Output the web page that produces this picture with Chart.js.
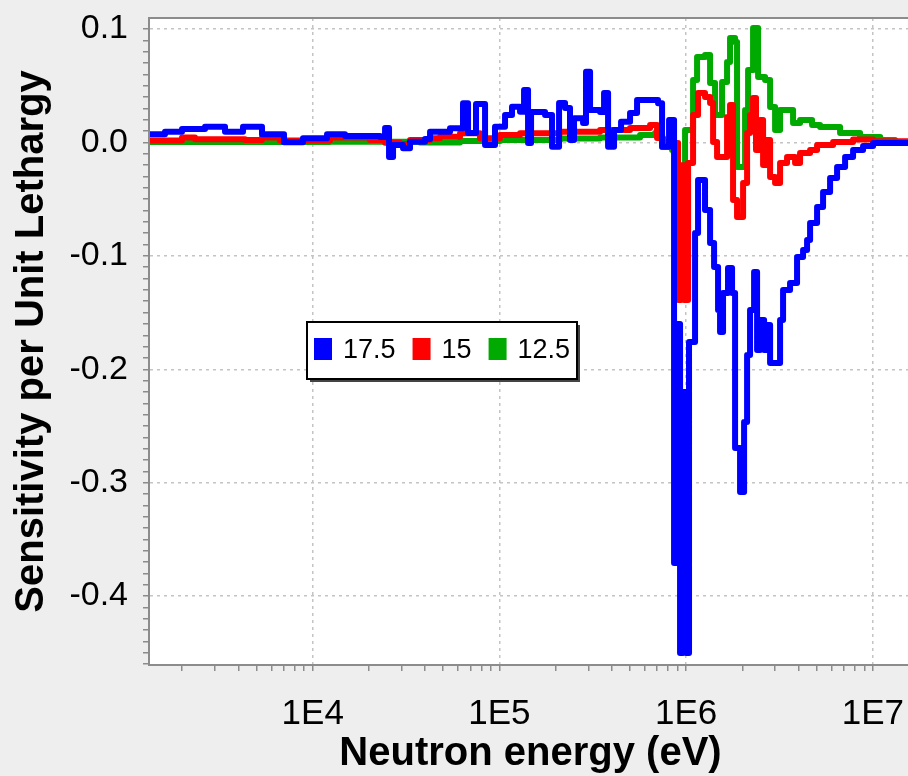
<!DOCTYPE html>
<html lang="en">
<head>
  <meta charset="UTF-8" />
  <title>Sensitivity per Unit Lethargy</title>
  <script src="https://cdn.jsdelivr.net/npm/chart.js"></script>
  <style>
    html, body {
      margin: 0;
      padding: 0;
      width: 908px;
      height: 776px;
      overflow: hidden;
      background: #eeeeee;
    }
    #wrap {
      position: absolute;
      left: 0;
      top: 0;
    }
    #wrap canvas {
      display: block;
    }
  </style>
</head>
<body>
  <div id="wrap">
    <canvas id="sensChart" width="912" height="776"></canvas>
  </div>

  <script>
    // series labels (legend order)
    const seriesLabels = ['17.5', '15', '12.5'];

    // group start energies (eV) and sensitivity per unit lethargy
    const blueE = [1300, 1618, 1995, 2650, 3391, 4233, 5350, 7020, 8872, 11930,
      14890, 22940, 24400, 25630, 26930, 30460, 33200, 39950, 42500, 54370,
      63830, 67890, 74930, 83740, 94710, 107150, 116800, 128920, 135450, 142300,
      147700, 175500, 191300, 208600, 224600, 238800, 250900, 280400, 290900, 305700,
      345800, 363300, 381800, 411000, 448100, 500600, 545800, 707100, 743000, 809900,
      861400, 894000, 927500, 962500, 998800, 1036000,
      1116000, 1158000, 1262000, 1343000, 1411000, 1482000, 1519000,
      1576000, 1676000, 1761000, 1828000, 1944000, 2043000, 2120000, 2199000, 2311000, 2398000,
      2488000, 2615000, 2713000, 2815000, 3184000, 3304000, 3601000, 3926000, 4228000, 4442000,
      4610000, 5025000, 5411000, 5899000, 6431000, 7099000, 7834000, 8860000, 10030000, 20000000];
    const blueV = [0.0072, 0.0095, 0.0119, 0.0139, 0.0095, 0.0139, 0.0072, 0.0002, 0.0037, 0.0072,
      0.0057, 0.0049, 0.0128, -0.0128, -0.0022, -0.0051, 0.0007, 0.0031, 0.0095, 0.0125,
      0.0346, 0.0084, 0.034, -0.0022, 0.0139, 0.0243, 0.0316, 0.0272, 0.0463, -0.0004,
      0.0269, 0.0243, -0.0037, 0.0348, 0.0304, 0.0022, 0.0213, 0.0172, 0.0624, 0.0287,
      0.0269, 0.0437, -0.0037, 0.011, 0.0183, 0.026, 0.0375, 0.0346, -0.0037, 0.0198,
      -0.3708, -0.16, -0.4502, -0.22, -0.4502, -0.1759,
      -0.0798, -0.0331, -0.0595, -0.0886, -0.1098, -0.1477, -0.1671,
      -0.1327, -0.1107, -0.1327, -0.2694, -0.3082, -0.2465, -0.1874, -0.1477, -0.1142, -0.183,
      -0.1565, -0.183, -0.1609, -0.1944, -0.1565, -0.1301, -0.1239, -0.101, -0.0948, -0.086,
      -0.071, -0.0569, -0.0437, -0.0313, -0.0216, -0.0128, -0.0066, -0.0031, -0.0004, -0.0004];

    const redE = [1300, 1995, 2342, 4339, 5350, 6681, 12380, 20270, 24400, 29350,
      33200, 42500, 48060, 61520, 78730, 100700, 128920, 211200, 345800, 500600,
      640900, 698400, 752100, 840500, 905000, 940000, 975000, 1024000, 1089000, 1158000, 1262000, 1343000,
      1394000, 1464000, 1656000, 1718000, 1783000, 1873000, 2018000, 2120000, 2199000, 2282000,
      2367000, 2488000, 2582000, 2679000, 2815000, 2994000, 3184000, 3470000, 3831000, 4074000,
      4610000, 5025000, 6123000, 7834000, 10030000, 20000000];
    const redV = [0.0018, 0.0044, 0.0028, 0.0022, 0.0044, 0.0018, 0.0044, 0.0022, -0.0002, -0.0013,
      0.0022, 0.0037, 0.0051, 0.0081, 0.0037, 0.0066, 0.0081, 0.0095, 0.011, 0.0128,
      0.0154, 0.004, 0.0007, -0.0004, -0.1389, -0.02, -0.1389, -0.0181, 0.0243, 0.0437, 0.0401, 0.0348,
      0.0004, -0.0128, 0.0225, 0.0331, -0.0507, -0.0657, -0.0357, 0.0084, 0.0243, 0.0392,
      -0.0066, 0.0198, -0.0198, 0.0022, -0.0304, -0.0357, -0.0181, -0.0128, -0.0181, -0.0093,
      -0.0066, -0.0022, 0.0004, 0.0026, 0.001, 0.001];

    const greenE = [1300, 12380, 37550, 61520, 100700, 211200, 345800, 566400, 681400, 743000,
      840500, 871800, 986500, 1089000, 1144000, 1262000, 1343000, 1428000, 1557000, 1656000,
      1718000, 1828000, 1873000, 2068000, 2146000, 2282000, 2428000, 2647000, 2815000, 2994000,
      3184000, 3737000, 4074000, 4724000, 5214000, 6672000, 8541000, 10950000, 13150000, 20000000];
    const greenV = [0.0004, 0.0007, 0.0, 0.0013, 0.0022, 0.0035, 0.0044, 0.0066, 0.0084, -0.004,
      -0.0066, -0.0225, 0.011, 0.0551, 0.0754, 0.0772, 0.0525, 0.0243, 0.0534, 0.071,
      0.0922, 0.0886, -0.0216, 0.0287, 0.0639, 0.101, 0.0578, 0.0551, 0.0313, 0.011,
      0.0287, 0.0172, 0.0198, 0.0154, 0.0137, 0.0084, 0.0049, 0.0022, 0.0004, 0.0004];

    // axis ticks
    const xMajorTicks = [1e4, 1e5, 1e6, 1e7];
    const xTickLabels = ['1E4', '1E5', '1E6', '1E7'];
    const yMajorTicks = [0.1, 0.0, -0.1, -0.2, -0.3, -0.4];

    const xMin = 1328, xMax = 1.62e7;
    const yMin = -0.4608, yMax = 0.1098;

    const toPoints = (es, vs) => es.map((e, i) => ({ x: e, y: vs[i] }));
    const isYMajor = v => yMajorTicks.some(m => Math.abs(m - v) < 1e-9);
    const isXMajor = v => xMajorTicks.indexOf(v) !== -1;
    const noScalePadding = s => {
      s.paddingTop = 0; s.paddingBottom = 0; s.paddingLeft = 0; s.paddingRight = 0;
    };

    const FONT = '"Liberation Sans", Arial, sans-serif';

    // white plot area on grey panel
    const plotBackground = {
      id: 'plotBackground',
      beforeDraw(chart) {
        const { ctx, chartArea: a } = chart;
        ctx.save();
        ctx.fillStyle = '#eeeeee';
        ctx.fillRect(0, 0, chart.width, chart.height);
        ctx.fillStyle = '#ffffff';
        ctx.fillRect(a.left, a.top, a.right - a.left, a.bottom - a.top);
        ctx.restore();
      },
      afterDraw(chart) {
        const { ctx, chartArea: a } = chart;
        ctx.save();
        ctx.strokeStyle = '#8c8c8c';
        ctx.lineWidth = 2;
        ctx.strokeRect(a.left, a.top, a.right - a.left + 4, a.bottom - a.top);
        ctx.restore();
      }
    };

    // boxed legend inside the plot
    const boxLegend = {
      id: 'boxLegend',
      afterDraw(chart) {
        const c = chart.ctx;
        const x = 307, y = 322, w = 270, h = 57;
        c.save();
        c.fillStyle = '#444';
        c.fillRect(x + 3, y + 3, w, h);
        c.fillStyle = '#ffffff';
        c.fillRect(x, y, w, h);
        c.strokeStyle = '#000';
        c.lineWidth = 2;
        c.strokeRect(x, y, w, h);
        c.font = '27px ' + FONT;
        c.textBaseline = 'middle';
        let cx = x + 7;
        chart.data.datasets.forEach(ds => {
          c.fillStyle = ds.borderColor;
          c.fillRect(cx, y + 16, 18, 22);
          cx += 29;
          c.fillStyle = '#000';
          c.fillText(ds.label, cx, y + 29);
          cx += c.measureText(ds.label).width + 17;
        });
        c.restore();
      }
    };

    const ctx = document.getElementById('sensChart').getContext('2d');
    new Chart(ctx, {
      type: 'line',
      data: {
        datasets: [
          { label: seriesLabels[0], data: toPoints(blueE, blueV), borderColor: '#0000ff', backgroundColor: '#0000ff' },
          { label: seriesLabels[1], data: toPoints(redE, redV), borderColor: '#ff0000', backgroundColor: '#ff0000' },
          { label: seriesLabels[2], data: toPoints(greenE, greenV), borderColor: '#00aa00', backgroundColor: '#00aa00' }
        ]
      },
      options: {
        responsive: false,
        animation: false,
        devicePixelRatio: 1,
        layout: { padding: { top: 18, left: 0, right: 0, bottom: 0 }, autoPadding: false },
        elements: {
          point: { radius: 0 },
          line: { borderWidth: 6, stepped: true, tension: 0, borderJoinStyle: 'round' }
        },
        plugins: {
          legend: { display: false },
          tooltip: { enabled: false }
        },
        scales: {
          x: {
            type: 'logarithmic',
            min: xMin,
            max: xMax,
            afterBuildTicks: s => {
              const t = [];
              for (let d = 3; d <= 7; d++) {
                for (let m = 1; m <= 9; m++) {
                  const v = m * Math.pow(10, d);
                  if (v >= xMin && v <= xMax) t.push({ value: v });
                }
              }
              s.ticks = t;
            },
            afterFit: s => { s.height = 111; noScalePadding(s); },
            ticks: {
              autoSkip: false,
              maxRotation: 0,
              padding: 22,
              color: '#000',
              font: { family: FONT, size: 35 },
              callback: v => {
                const i = xMajorTicks.indexOf(v);
                return i === -1 ? '' : xTickLabels[i];
              }
            },
            grid: {
              color: c => (c.tick && isXMajor(c.tick.value)) ? '#c4c4c4' : 'rgba(0,0,0,0)',
              lineWidth: 1.5,
              tickColor: '#8c8c8c',
              tickLength: 6,
              tickWidth: 1.5
            },
            border: { display: true, color: '#8c8c8c', width: 2, dash: [3, 4] },
            title: {
              display: true,
              text: 'Neutron energy (eV)',
              color: '#000',
              font: { family: FONT, size: 40, weight: 'bold', lineHeight: 1.1 },
              padding: { top: 0, bottom: 0 }
            }
          },
          y: {
            type: 'linear',
            min: yMin,
            max: yMax,
            afterBuildTicks: s => {
              const t = [];
              for (let k = -46; k <= 10; k++) t.push({ value: k / 100 });
              s.ticks = t;
            },
            afterFit: s => { s.width = 149; noScalePadding(s); },
            ticks: {
              autoSkip: false,
              padding: 15,
              color: '#000',
              font: { family: FONT, size: 34 },
              callback: v => isYMajor(v) ? (Math.round(v * 10) / 10).toFixed(1) : ''
            },
            grid: {
              color: c => (c.tick && isYMajor(c.tick.value)) ? '#c4c4c4' : 'rgba(0,0,0,0)',
              lineWidth: 1.5,
              tickColor: '#8c8c8c',
              tickLength: 6,
              tickWidth: 1.5
            },
            border: { display: true, color: '#8c8c8c', width: 2, dash: [3, 4] },
            title: {
              display: true,
              text: 'Sensitivity per Unit Lethargy',
              color: '#000',
              font: { family: FONT, size: 40, weight: 'bold', lineHeight: 1.1 },
              padding: { top: 10, bottom: 0 }
            }
          }
        }
      },
      plugins: [plotBackground, boxLegend]
    });
  </script>
</body>
</html>
